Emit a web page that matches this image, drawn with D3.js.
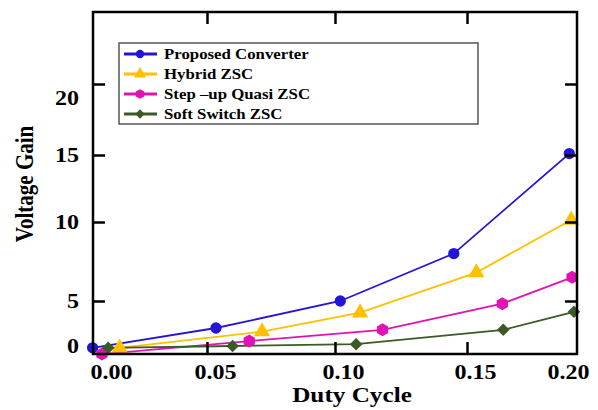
<!DOCTYPE html>
<html>
<head>
<meta charset="utf-8">
<script src="https://cdn.jsdelivr.net/npm/d3@7/dist/d3.min.js"></script>
<style>
  body { margin: 0; background: #fff; }
  text { font-family: "Liberation Serif", "Times New Roman", serif; font-weight: bold; fill: #000; }
</style>
</head>
<body>
<svg id="chart" width="598" height="410"></svg>
<script>
// Series names, colours and values (duty cycle vs. voltage gain)
const seriesNames = ["Proposed Converter", "Hybrid ZSC", "Step \u2013up Quasi ZSC", "Soft Switch ZSC"];
const seriesColors = ["#2414d6", "#ffc000", "#e012b4", "#3b5a26"];

const proposedDuty = [-0.005, 0.0535, 0.102, 0.145, 0.205];
const proposedGain = [-0.2, 2.0, 5.0, 8.0, 15.1];

const hybridDuty = [0.008, 0.0715, 0.1095, 0.155, 0.206];
const hybridGain = [-0.2, 1.6, 3.7, 6.8, 10.15];

const quasiDuty = [-0.0005, 0.0665, 0.118, 0.169, 0.2065];
const quasiGain = [-0.9, 0.55, 1.8, 4.7, 6.5];

const softDuty = [0.0025, 0.06, 0.108, 0.1695, 0.2075];
const softGain = [-0.2, 0.0, 0.2, 1.8, 3.8];

const xTickLabels = [0.00, 0.05, 0.10, 0.15, 0.20];
const xTickMarks = [0.05, 0.10, 0.15];
const yTickLabels = [0, 5, 10, 15, 20];
const yTickMarks = [5, 10, 15, 20];

// ---- layout ----
const svg = d3.select("#chart");
const plot = { left: 93, right: 577, top: 12, bottom: 354 };
const stretch = 1.2;   // horizontal widening of all lettering

// piecewise axes
const x = d3.scaleLinear().domain(xTickLabels).range([103, 207, 335, 467, 560]);
const y = d3.scaleLinear().domain(yTickLabels).range([346, 301, 222, 155, 84]);

// custom hexagon marker
const symbolHexagon = {
  draw(ctx, size) {
    const r = Math.sqrt((2 * size) / (3 * Math.sqrt(3)));
    for (let i = 0; i < 6; i++) {
      const a = -Math.PI / 2 + i * Math.PI / 3;
      const px = r * Math.cos(a), py = r * Math.sin(a);
      if (i === 0) ctx.moveTo(px, py); else ctx.lineTo(px, py);
    }
    ctx.closePath();
  }
};
const markerTypes = [d3.symbolCircle, d3.symbolTriangle, symbolHexagon, d3.symbolSquare];
const markerSizes = [100, 115, 110, 80];
const markerRotate = [0, 0, 0, 45];

const series = [
  { name: seriesNames[0], duty: proposedDuty, gain: proposedGain },
  { name: seriesNames[1], duty: hybridDuty, gain: hybridGain },
  { name: seriesNames[2], duty: quasiDuty, gain: quasiGain },
  { name: seriesNames[3], duty: softDuty, gain: softGain }
].map((s, i) => ({
  ...s, i,
  points: s.duty.map((d, j) => ({ d, g: s.gain[j] }))
}));

// widen a text element horizontally around its own anchor point
function widen(sel, dx = 0) {
  sel.each(function () {
    const t = d3.select(this);
    const tx = (+t.attr("x") || 0) + dx;
    t.attr("x", 0).attr("transform", `translate(${tx},0) scale(${stretch},1)`);
  });
}

// ---- series lines & markers ----
const line = d3.line().x(p => x(p.d)).y(p => y(p.g));
const gSeries = svg.append("g");
series.forEach(s => {
  gSeries.append("path")
    .datum(s.points)
    .attr("d", line)
    .attr("fill", "none")
    .attr("stroke", seriesColors[s.i])
    .attr("stroke-width", 1.8);
});
series.forEach(s => {
  gSeries.append("g").selectAll("path")
    .data(s.points)
    .join("path")
    .attr("d", d3.symbol().type(markerTypes[s.i]).size(markerSizes[s.i]))
    .attr("transform", p => `translate(${x(p.d)},${y(p.g)}) rotate(${markerRotate[s.i]})`)
    .attr("fill", seriesColors[s.i]);
});

// ---- axes ----
const tickLen = 12;
function styleAxis(g) {
  g.select(".domain").remove();
  g.selectAll(".tick line").attr("stroke", "#000").attr("stroke-width", 2.5);
}

// left axis with labels
const gLeft = svg.append("g")
  .attr("transform", `translate(${plot.left},0)`)
  .call(d3.axisLeft(y).tickValues(yTickLabels).tickSizeInner(-tickLen).tickSizeOuter(0).tickPadding(14).tickFormat(d3.format("d")))
  .call(styleAxis);
gLeft.selectAll(".tick").filter(d => !yTickMarks.includes(d)).select("line").remove();
gLeft.selectAll(".tick text").attr("font-size", 20).attr("font-family", null)
  .attr("dy", d => d === 20 ? "1.05em" : "0.32em");
widen(gLeft.selectAll(".tick text"));

// right axis (marks only)
svg.append("g")
  .attr("transform", `translate(${plot.right},0)`)
  .call(d3.axisRight(y).tickValues(yTickMarks).tickSizeInner(-tickLen).tickSizeOuter(0).tickFormat(""))
  .call(styleAxis);

// bottom axis with labels
const gBottom = svg.append("g")
  .attr("transform", `translate(0,${plot.bottom})`)
  .call(d3.axisBottom(x).tickValues(xTickLabels).tickSizeInner(-tickLen).tickSizeOuter(0).tickPadding(11).tickFormat(d3.format(".2f")))
  .call(styleAxis);
gBottom.selectAll(".tick").filter(d => !xTickMarks.includes(d)).select("line").remove();
gBottom.selectAll(".tick text").attr("font-size", 20).attr("font-family", null);
widen(gBottom.selectAll(".tick text"), 8);

// top axis (marks only)
svg.append("g")
  .attr("transform", `translate(0,${plot.top})`)
  .call(d3.axisTop(x).tickValues(xTickMarks).tickSizeInner(-tickLen).tickSizeOuter(0).tickFormat(""))
  .call(styleAxis);

// frame
svg.append("rect")
  .attr("x", plot.left).attr("y", plot.top)
  .attr("width", plot.right - plot.left).attr("height", plot.bottom - plot.top)
  .attr("fill", "none").attr("stroke", "#000").attr("stroke-width", 2.5);

// ---- axis titles ----
svg.append("text")
  .attr("transform", `translate(352,402) scale(${stretch},1)`)
  .attr("text-anchor", "middle")
  .attr("font-size", 21)
  .text("Duty Cycle");

svg.append("text")
  .attr("transform", `translate(33,184) scale(${stretch},1) rotate(-90)`)
  .attr("text-anchor", "middle")
  .attr("font-size", 21)
  .text("Voltage Gain");

// ---- legend ----
const legend = svg.append("g");
legend.append("rect")
  .attr("x", 119).attr("y", 43).attr("width", 359).attr("height", 81)
  .attr("fill", "#fff").attr("stroke", "#555").attr("stroke-width", 1.5);

const rowY = d3.scalePoint().domain(seriesNames).range([54, 114]);
const items = legend.selectAll("g.item").data(series).join("g")
  .attr("class", "item")
  .attr("transform", s => `translate(0,${rowY(s.name)})`);
items.append("line")
  .attr("x1", 124).attr("x2", 157)
  .attr("stroke", s => seriesColors[s.i]).attr("stroke-width", 3);
items.append("path")
  .attr("d", s => d3.symbol().type(markerTypes[s.i]).size(markerSizes[s.i] * 0.55)())
  .attr("transform", s => `translate(140,0) rotate(${markerRotate[s.i]})`)
  .attr("fill", s => seriesColors[s.i]);
items.append("text")
  .attr("x", 0)
  .attr("transform", `translate(164,0) scale(${stretch},1)`)
  .attr("dy", "0.33em")
  .attr("font-size", 14)
  .text(s => s.name);
</script>
</body>
</html>
